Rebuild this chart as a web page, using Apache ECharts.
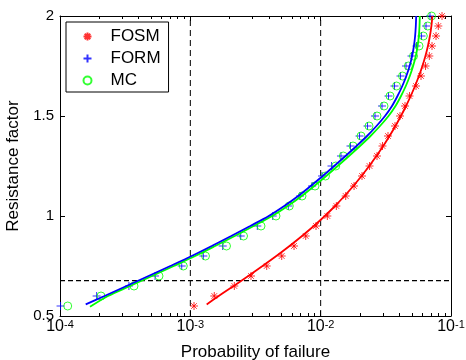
<!DOCTYPE html>
<html>
<head>
<meta charset="utf-8">
<title>Resistance factor vs probability of failure</title>
<script src="https://cdn.jsdelivr.net/npm/echarts@6/dist/echarts.min.js"></script>
<style>
  html, body { margin: 0; padding: 0; background: #fff; }
  #chart { width: 466px; height: 360px; }
</style>
</head>
<body>
<div id="chart"></div>
<script>
// Resistance factor levels of the point estimates (same for all three methods).
const markerFactor = [0.55, 0.6, 0.65, 0.7, 0.75, 0.8, 0.85, 0.9, 0.95, 1.0,
  1.05, 1.1, 1.15, 1.2, 1.25, 1.3, 1.35, 1.4, 1.45, 1.5,
  1.55, 1.6, 1.65, 1.7, 1.75, 1.8, 1.85, 1.9, 1.95, 2.0];

// Probability of failure.
const fosmPf = [1.067e-3, 1.527e-3, 2.175e-3, 2.921e-3, 3.855e-3, 5.025e-3, 6.245e-3, 7.678e-3, 9.21e-3, 1.125e-2,
  1.319e-2, 1.556e-2, 1.803e-2, 2.076e-2, 2.371e-2, 2.706e-2, 2.982e-2, 3.286e-2, 3.719e-2, 4.062e-2,
  4.438e-2, 4.806e-2, 5.391e-2, 5.888e-2, 6.376e-2, 6.818e-2, 7.151e-2, 7.676e-2, 7.993e-2, 8.534e-2];
const formPf = [1.01e-4, 1.91e-4, 3.38e-4, 5.36e-4, 8.59e-4, 1.258e-3, 1.772e-3, 2.435e-3, 3.265e-3, 4.287e-3,
  5.647e-3, 6.941e-3, 8.583e-3, 1.024e-2, 1.211e-2, 1.432e-2, 1.694e-2, 1.987e-2, 2.288e-2, 2.612e-2,
  2.956e-2, 3.316e-2, 3.687e-2, 4.099e-2, 4.518e-2, 4.979e-2, 5.437e-2, 5.94e-2, 6.432e-2, 6.902e-2];
const mcPf = [1.146e-4, 2.063e-4, 3.697e-4, 5.749e-4, 8.833e-4, 1.307e-3, 1.895e-3, 2.559e-3, 3.486e-3, 4.544e-3,
  5.746e-3, 7.193e-3, 9.05e-3, 1.089e-2, 1.305e-2, 1.492e-2, 1.771e-2, 2.04e-2, 2.35e-2, 2.706e-2,
  3.063e-2, 3.405e-2, 3.819e-2, 4.246e-2, 4.705e-2, 5.157e-2, 5.684e-2, 6.133e-2, 6.629e-2, 7.087e-2];

// Continuous curves (solid lines).
const fosmCurveFactor = [0.558, 0.6, 0.65, 0.7, 0.75, 0.8, 0.85, 0.9, 0.95, 1.0,
  1.05, 1.1, 1.15, 1.2, 1.25, 1.3, 1.35, 1.4, 1.45, 1.5,
  1.55, 1.6, 1.65, 1.7, 1.75, 1.8, 1.85, 1.9, 1.95, 2.0];
const fosmCurvePf = [1.335e-3, 1.651e-3, 2.152e-3, 2.785e-3, 3.579e-3, 4.568e-3, 5.768e-3, 7.193e-3, 8.86e-3, 1.076e-2,
  1.289e-2, 1.524e-2, 1.78e-2, 2.058e-2, 2.358e-2, 2.677e-2, 3.019e-2, 3.376e-2, 3.746e-2, 4.128e-2,
  4.518e-2, 4.908e-2, 5.296e-2, 5.673e-2, 6.036e-2, 6.364e-2, 6.652e-2, 6.889e-2, 7.074e-2, 7.201e-2];
const formCurveFactor = [0.558, 0.6, 0.65, 0.7, 0.75, 0.8, 0.85, 0.9, 0.95, 1.0,
  1.05, 1.1, 1.15, 1.2, 1.25, 1.3, 1.35, 1.4, 1.45, 1.5,
  1.55, 1.6, 1.65, 1.7, 1.75, 1.8, 1.85, 1.9, 1.95, 2.0];
const formCurvePf = [1.575e-4, 2.196e-4, 3.238e-4, 4.777e-4, 7.019e-4, 1.024e-3, 1.459e-3, 2.058e-3, 2.88e-3, 3.993e-3,
  5.252e-3, 6.726e-3, 8.386e-3, 1.037e-2, 1.27e-2, 1.551e-2, 1.884e-2, 2.268e-2, 2.682e-2, 3.117e-2,
  3.527e-2, 3.887e-2, 4.231e-2, 4.542e-2, 4.814e-2, 5.032e-2, 5.194e-2, 5.305e-2, 5.371e-2, 5.409e-2];
const mcCurveFactor = [0.546, 0.6, 0.65, 0.7, 0.75, 0.8, 0.85, 0.9, 0.95, 1.0,
  1.05, 1.1, 1.15, 1.2, 1.25, 1.3, 1.35, 1.4, 1.45, 1.5,
  1.55, 1.6, 1.65, 1.7, 1.75, 1.8, 1.85, 1.9, 1.95, 2.0];
const mcCurvePf = [1.699e-4, 2.335e-4, 3.444e-4, 5.081e-4, 7.468e-4, 1.09e-3, 1.552e-3, 2.191e-3, 3.062e-3, 4.248e-3,
  5.587e-3, 7.155e-3, 8.923e-3, 1.103e-2, 1.351e-2, 1.65e-2, 2.004e-2, 2.412e-2, 2.853e-2, 3.316e-2,
  3.752e-2, 4.135e-2, 4.501e-2, 4.831e-2, 5.122e-2, 5.371e-2, 5.546e-2, 5.665e-2, 5.733e-2, 5.764e-2];

// Dashed reference lines.
const refPf = [1e-3, 1e-2];
const refFactor = [0.677];

// Axis ranges and ticks.
const xRange = [1e-4, 1e-1];
const yRange = [0.5, 2];
const xMajorTicks = [1e-4, 1e-3, 1e-2, 1e-1];
const xTickExp = ['-4', '-3', '-2', '-1'];
const xMinorTicks = [2e-4, 3e-4, 4e-4, 5e-4, 6e-4, 7e-4, 8e-4, 9e-4,
  2e-3, 3e-3, 4e-3, 5e-3, 6e-3, 7e-3, 8e-3, 9e-3,
  2e-2, 3e-2, 4e-2, 5e-2, 6e-2, 7e-2, 8e-2, 9e-2];

const FONT = '"Liberation Sans", Arial, Helvetica, sans-serif';
const ASTERISK = 'path://M0,5L10,5M5,0L5,10M1.5,1.5L8.5,8.5M1.5,8.5L8.5,1.5';
const PLUS = 'path://M0,5L10,5M5,0L5,10';

const pairs = (xs, ys) => xs.map((x, i) => [x, ys[i]]);

function expLabel(value) {
  const i = xMajorTicks.findIndex(t => Math.abs(Math.log10(t) - Math.log10(value)) < 1e-6);
  return '{b|10}{s|' + (i >= 0 ? xTickExp[i] : '') + '}';
}

function logAxis(extra) {
  return Object.assign({
    type: 'log',
    logBase: 10,
    min: xRange[0],
    max: xRange[1],
    axisLine: { show: true, onZero: false, lineStyle: { color: '#000', width: 1 } },
    axisTick: { show: true, inside: true, length: 5, lineStyle: { color: '#000', width: 1 }, customValues: xMajorTicks },
    axisLabel: { show: false },
    splitLine: { show: false },
  }, extra);
}

function minorLogAxis(position) {
  return logAxis({
    position,
    axisLine: { show: false },
    axisTick: { show: true, inside: true, length: 3, lineStyle: { color: '#000', width: 1 }, customValues: xMinorTicks },
  });
}

function valueAxis(extra) {
  return Object.assign({
    type: 'value',
    min: yRange[0],
    max: yRange[1],
    interval: 0.5,
    axisLine: { show: true, onZero: false, lineStyle: { color: '#000', width: 1 } },
    axisTick: { show: true, inside: true, length: 5, lineStyle: { color: '#000', width: 1 } },
    axisLabel: { show: false },
    splitLine: { show: false },
  }, extra);
}

// dashed guides as plain two-point line series
function guide(data, dash, width) {
  return {
    type: 'line', data, showSymbol: false, silent: true, z: 1,
    lineStyle: { color: '#000', width, type: dash },
  };
}
const guides = refPf.map(p => guide([[p, yRange[0]], [p, yRange[1]]], [6, 4], 1))
  .concat(refFactor.map(v => guide([[xRange[0], v], [xRange[1], v]], [5, 3], 1.2)));

const chart = echarts.init(document.getElementById('chart'), null, { renderer: 'canvas' });
chart.setOption({
  animation: false,
  backgroundColor: '#fff',
  textStyle: { fontFamily: FONT, color: '#000' },
  grid: { left: 60, right: 15, top: 16, bottom: 44, containLabel: false, outerBoundsMode: 'none' },
  legend: {
    left: 66,
    top: 22,
    orient: 'vertical',
    selectedMode: false,
    data: [
      { name: 'FOSM', icon: ASTERISK },
      { name: 'FORM', icon: PLUS },
      { name: 'MC', icon: 'circle' },
    ],
    itemWidth: 36,
    itemHeight: 8,
    itemGap: 5,
    padding: [6, 8, 3, 15],
    borderColor: '#000',
    borderWidth: 1,
    backgroundColor: '#fff',
    textStyle: { fontFamily: FONT, fontSize: 17, lineHeight: 17, color: '#000' },
  },
  xAxis: [
    logAxis({
      position: 'bottom',
      name: 'Probability of failure',
      nameLocation: 'middle',
      nameGap: 28,
      nameTextStyle: { fontFamily: FONT, fontSize: 17, color: '#000' },
      axisLabel: {
        show: true,
        customValues: xMajorTicks,
        margin: 3,
        color: '#000',
        formatter: expLabel,
        rich: {
          b: { fontFamily: FONT, fontSize: 16, lineHeight: 16, verticalAlign: 'bottom', color: '#000' },
          s: { fontFamily: FONT, fontSize: 11, lineHeight: 13, verticalAlign: 'top', color: '#000' },
        },
      },
    }),
    logAxis({ position: 'top' }),
    minorLogAxis('bottom'),
    minorLogAxis('top'),
  ],
  yAxis: [
    valueAxis({
      position: 'left',
      name: 'Resistance factor',
      nameLocation: 'middle',
      nameGap: 32,
      nameTextStyle: { fontFamily: FONT, fontSize: 17, color: '#000' },
      axisLabel: { show: true, margin: 6, fontFamily: FONT, fontSize: 15, color: '#000', showMinLabel: true, showMaxLabel: true },
    }),
    valueAxis({ position: 'right' }),
  ],
  series: guides.concat([
    {
      name: 'FOSM curve', type: 'line', data: pairs(fosmCurvePf, fosmCurveFactor),
      showSymbol: false, smooth: 0.3, lineStyle: { color: '#ff0000', width: 1.8 }, itemStyle: { color: '#ff0000' },
    },
    {
      name: 'MC curve', type: 'line', data: pairs(mcCurvePf, mcCurveFactor),
      showSymbol: false, smooth: 0.3, lineStyle: { color: '#00ff00', width: 1.8 }, itemStyle: { color: '#00ff00' },
    },
    {
      name: 'FORM curve', type: 'line', data: pairs(formCurvePf, formCurveFactor),
      showSymbol: false, smooth: 0.3, lineStyle: { color: '#0000ff', width: 1.8 }, itemStyle: { color: '#0000ff' },
    },
    {
      name: 'FOSM', type: 'scatter', data: pairs(fosmPf, markerFactor), clip: false,
      symbol: ASTERISK, symbolSize: 8,
      itemStyle: { color: 'none', borderColor: '#ff0000', borderWidth: 1 },
    },
    {
      name: 'FORM', type: 'scatter', data: pairs(formPf, markerFactor), clip: false,
      symbol: PLUS, symbolSize: 8,
      itemStyle: { color: 'none', borderColor: '#0000ff', borderWidth: 1 },
    },
    {
      name: 'MC', type: 'scatter', data: pairs(mcPf, markerFactor), clip: false,
      symbol: 'circle', symbolSize: 8,
      itemStyle: { color: 'none', borderColor: '#00ff00', borderWidth: 1 },
    },
  ]),
});
window.addEventListener('resize', () => chart.resize());
</script>
</body>
</html>
